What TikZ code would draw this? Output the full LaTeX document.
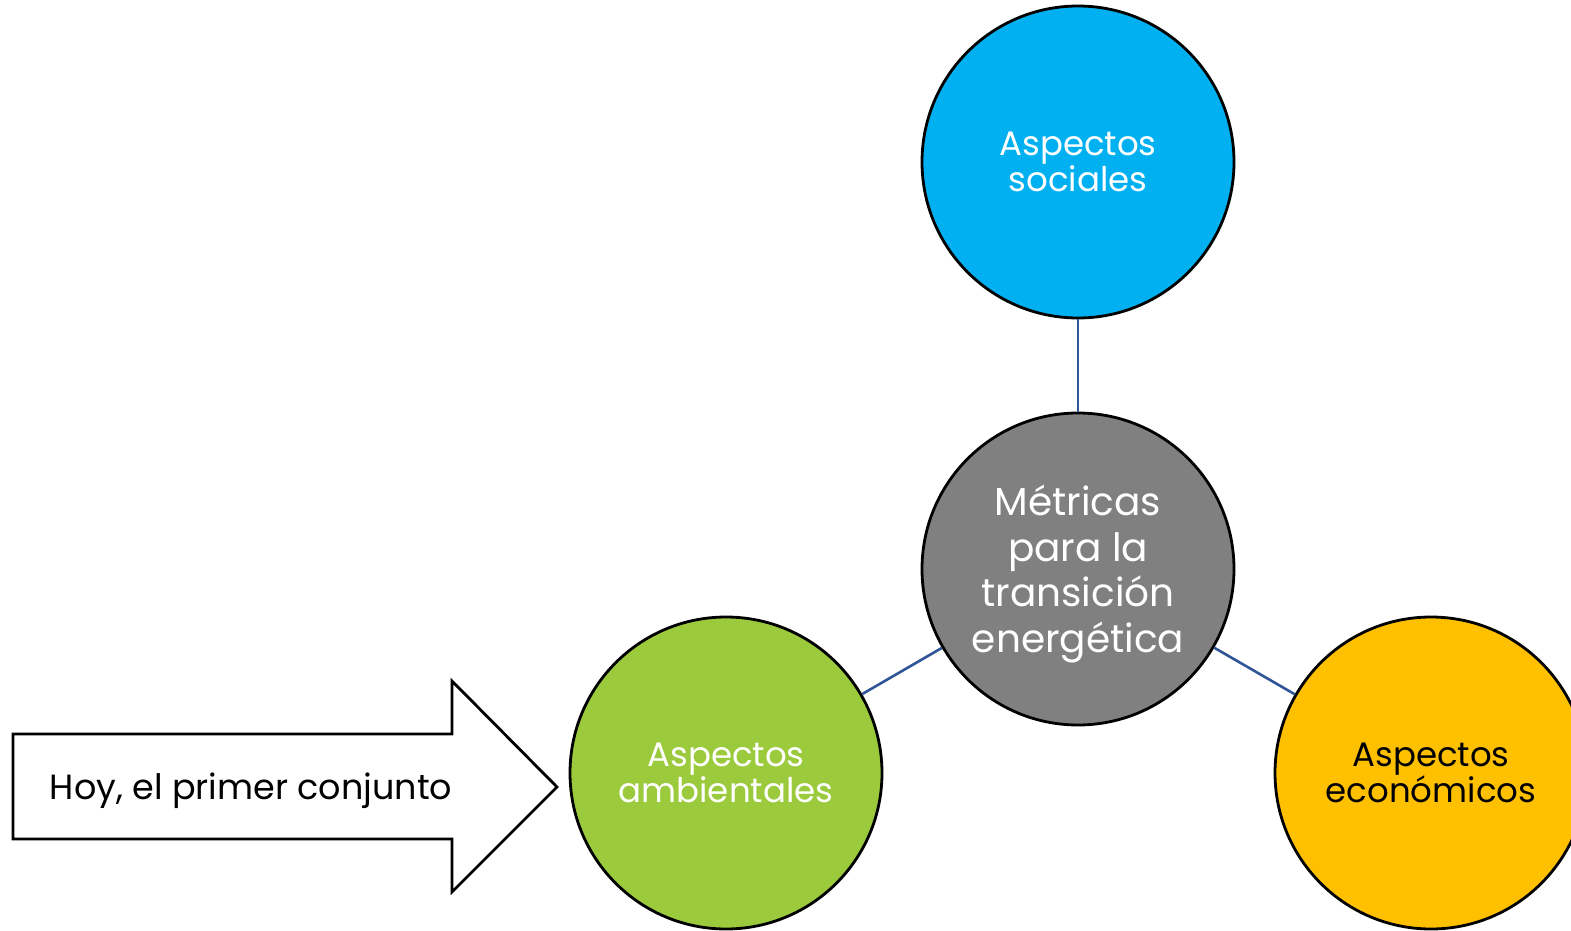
\documentclass[tikz,border=0pt]{standalone}
\usepackage{fontspec}
\setmainfont{Poppins}
\begin{document}
\begin{tikzpicture}[x=1pt,y=-1pt,
  bubble/.style={circle, draw=black, line width=2.8pt, minimum size=312pt, inner sep=0pt,
    align=center, font=\fontsize{34}{36.5}\selectfont},
  link/.style={draw={rgb,255:red,47;green,85;blue,151}, line width=2.6pt},
  arrowtext/.style={font=\fontsize{35}{36}\selectfont, text=black}]
\clip (0,0) rectangle (1571,931);
\useasboundingbox (0,0) rectangle (1571,931);

% central metric and its three aspects
\node[bubble, fill={rgb,255:red,128;green,128;blue,128},
      label={[name=coretext, text=white, align=center, yshift=-5pt,
              font=\fontsize{39}{45.5}\selectfont]center:{Métricas\\para la\\transición\\energética}}]
      (core) at (1078,569) {};
\node[bubble, fill={rgb,255:red,0;green,176;blue,240}, text=white] (soc) at (1078,162)
      {Aspectos\\sociales};
\node[bubble, fill={rgb,255:red,155;green,202;blue,60}, text=white] (amb) at (726,773)
      {Aspectos\\ambientales};
\node[bubble, fill={rgb,255:red,255;green,192;blue,0}, text=black] (eco) at (1431,773)
      {Aspectos\\económicos};

\draw[link] (core) -- (soc);
\draw[link] (core) -- (amb);
\draw[link] (core) -- (eco);

% block arrow pointing at the environmental aspects
\draw[line width=2.8pt, fill=white, line join=miter]
  (13,734) -- (452,734) -- (452,681) -- (557,787) -- (452,892) -- (452,839) -- (13,839) -- cycle;
\node[arrowtext] (hoy) at (251,791) {Hoy, el primer conjunto};
\end{tikzpicture}
\end{document}
